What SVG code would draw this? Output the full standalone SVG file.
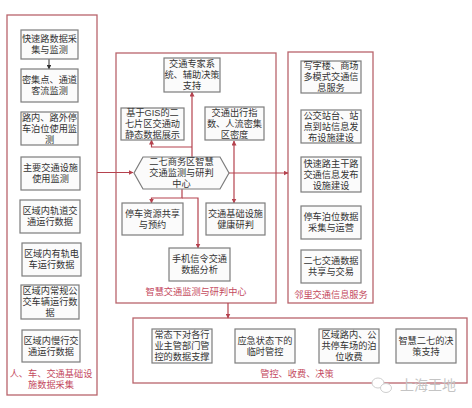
<svg xmlns="http://www.w3.org/2000/svg" width="472" height="408" viewBox="0 0 472 408">
<style>
.bg{fill:#ffffff}
.cont{fill:none;stroke:#b9646c;stroke-width:1.3}
.box{fill:#fbfbfb;stroke:#7c7c7c;stroke-width:1.2}
.t{font-family:"Liberation Sans","Noto Sans CJK SC","Noto Sans CJK JP",sans-serif;font-size:9.2px;fill:#333;text-anchor:middle}
.lbl{font-family:"Liberation Sans","Noto Sans CJK SC","Noto Sans CJK JP",sans-serif;font-size:9.2px;fill:#c44a5e;text-anchor:middle}
.ln{fill:none;stroke:#b5424e;stroke-width:1.2}
.lnk{fill:none;stroke:#333;stroke-width:1}
.wm{font-family:"Liberation Sans","Noto Sans CJK SC","Noto Sans CJK JP",sans-serif;font-size:14px;fill:#c4c4c4;text-anchor:middle}
</style>
<defs>
<marker id="ar" viewBox="0 0 10 10" refX="9" refY="5" markerWidth="5" markerHeight="5" orient="auto-start-reverse" markerUnits="userSpaceOnUse">
<path d="M0,0 L10,5 L0,10 Z" fill="#b5424e"/>
</marker>
<marker id="ak" viewBox="0 0 10 10" refX="9" refY="5" markerWidth="4.5" markerHeight="4.5" orient="auto" markerUnits="userSpaceOnUse">
<path d="M0,0 L10,5 L0,10 Z" fill="#333"/>
</marker>
</defs>
<rect class="bg" width="472" height="408"/>

<g id="containers">
<rect id="left-container" class="cont" x="7" y="15" width="90" height="380"/>
<rect id="center-container" class="cont" x="116" y="53" width="160" height="250"/>
<rect id="right-container" class="cont" x="288" y="52" width="85" height="251"/>
<rect id="bottom-container" class="cont" x="133" y="318" width="334" height="65"/>
</g>

<g id="connectors">
<path class="lnk" d="M49,59 V69" marker-end="url(#ak)"/>
<path class="ln" d="M97,172.5 H133" marker-end="url(#ar)"/>
<path class="ln" d="M192,157 V92" marker-end="url(#ar)"/>
<path class="ln" d="M192,147 H151.5 V140" marker-end="url(#ar)"/>
<path class="ln" d="M234,141 V203" marker-start="url(#ar)" marker-end="url(#ar)"/>
<path class="ln" d="M229,173 H288" marker-end="url(#ar)"/>
<path class="ln" d="M182,189 V198 H151.5 V203" marker-end="url(#ar)"/>
<path class="ln" d="M182,198 H198 V248" marker-end="url(#ar)"/>
<path class="ln" d="M228,303 V318" marker-end="url(#ar)"/>
</g>

<g id="n-l1"><rect class="box" x="21" y="30" width="57" height="29"/><text class="t"><tspan x="49.5" y="42.2">快速路数据采</tspan><tspan x="49.5" y="53.2">集与监测</tspan></text></g>
<g id="n-l2"><rect class="box" x="21" y="69" width="57" height="33"/><text class="t"><tspan x="49.5" y="83">密集点、通道</tspan><tspan x="49.5" y="94">客流监测</tspan></text></g>
<g id="n-l3"><rect class="box" x="21" y="112" width="57" height="33"/><text class="t"><tspan x="49.5" y="120.7">路内、路外停</tspan><tspan x="49.5" y="131.7">车泊位使用监</tspan><tspan x="49.5" y="142.7">测</tspan></text></g>
<g id="n-l4"><rect class="box" x="21" y="157" width="59" height="33"/><text class="t"><tspan x="50.5" y="171">主要交通设施</tspan><tspan x="50.5" y="182">使用监测</tspan></text></g>
<g id="n-l5"><rect class="box" x="20" y="200" width="60" height="33"/><text class="t"><tspan x="50" y="214">区域内轨道交</tspan><tspan x="50" y="225">通运行数据</tspan></text></g>
<g id="n-l6"><rect class="box" x="22" y="243" width="59" height="33"/><text class="t"><tspan x="51.5" y="257">区域内有轨电</tspan><tspan x="51.5" y="268">车运行数据</tspan></text></g>
<g id="n-l7"><rect class="box" x="21" y="285" width="58" height="34"/><text class="t"><tspan x="50" y="294.2">区域内常规公</tspan><tspan x="50" y="305.2">交车辆运行数</tspan><tspan x="50" y="316.2">据</tspan></text></g>
<g id="n-l8"><rect class="box" x="22" y="330" width="58" height="32"/><text class="t"><tspan x="51" y="343.5">区域内慢行交</tspan><tspan x="51" y="354.5">通运行数据</tspan></text></g>
<g id="lbl-left"><text class="lbl"><tspan x="51" y="377.2">人、车、交通基础设</tspan><tspan x="51" y="388.2">施数据采集</tspan></text></g>

<g id="n-expert"><rect class="box" x="164" y="58" width="56" height="34"/><text class="t"><tspan x="192" y="67.2">交通专家系</tspan><tspan x="192" y="78.2">统、辅助决策</tspan><tspan x="192" y="89.2">支持</tspan></text></g>
<g id="n-gis"><rect class="box" x="121" y="108" width="63" height="32"/><text class="t"><tspan x="152.5" y="116.2">基于GIS的二</tspan><tspan x="152.5" y="127.2">七片区交通动</tspan><tspan x="152.5" y="138.2">静态数据展示</tspan></text></g>
<g id="n-index"><rect class="box" x="205" y="107" width="59" height="33"/><text class="t"><tspan x="234.5" y="116">交通出行指</tspan><tspan x="234.5" y="127">数、人流密集</tspan><tspan x="234.5" y="138">区密度</tspan></text></g>
<g id="n-hub"><polygon class="box" points="134,173 143,157 220,157 229,173 220,189 143,189"/><text class="t"><tspan x="181.5" y="165.2">二七商务区智慧</tspan><tspan x="181.5" y="176.2">交通监测与研判</tspan><tspan x="181.5" y="187.2">中心</tspan></text></g>
<g id="n-parking"><rect class="box" x="122" y="203" width="61" height="32"/><text class="t"><tspan x="152.5" y="216.7">停车资源共享</tspan><tspan x="152.5" y="227.7">与预约</tspan></text></g>
<g id="n-infra"><rect class="box" x="206" y="203" width="59" height="32"/><text class="t"><tspan x="235.5" y="216.7">交通基础设施</tspan><tspan x="235.5" y="227.7">健康研判</tspan></text></g>
<g id="n-mobile"><rect class="box" x="169" y="248" width="61" height="33"/><text class="t"><tspan x="199.5" y="262.2">手机信令交通</tspan><tspan x="199.5" y="273.2">数据分析</tspan></text></g>
<g id="lbl-center"><text class="lbl" x="196" y="295.2">智慧交通监测与研判中心</text></g>

<g id="n-r1"><rect class="box" x="301" y="61" width="60" height="32"/><text class="t"><tspan x="331" y="69.2">写字楼、商场</tspan><tspan x="331" y="80.2">多模式交通信</tspan><tspan x="331" y="91.2">息服务</tspan></text></g>
<g id="n-r2"><rect class="box" x="301" y="110" width="60" height="33"/><text class="t"><tspan x="331" y="118.7">公交站台、站</tspan><tspan x="331" y="129.7">点到站信息发</tspan><tspan x="331" y="140.7">布设施建设</tspan></text></g>
<g id="n-r3"><rect class="box" x="301" y="157" width="60" height="35"/><text class="t"><tspan x="331" y="166.7">快速路主干路</tspan><tspan x="331" y="177.7">交通信息发布</tspan><tspan x="331" y="188.7">设施建设</tspan></text></g>
<g id="n-r4"><rect class="box" x="301" y="206" width="60" height="33"/><text class="t"><tspan x="331" y="220.2">停车泊位数据</tspan><tspan x="331" y="231.2">采集与运营</tspan></text></g>
<g id="n-r5"><rect class="box" x="301" y="250" width="60" height="33"/><text class="t"><tspan x="331" y="264.2">二七交通数据</tspan><tspan x="331" y="275.2">共享与交易</tspan></text></g>
<g id="lbl-right"><text class="lbl" x="331" y="298.2">邻里交通信息服务</text></g>

<g id="n-b1"><rect class="box" x="152" y="329" width="60" height="34"/><text class="t"><tspan x="182" y="338.2">常态下对各行</tspan><tspan x="182" y="349.2">业主管部门管</tspan><tspan x="182" y="360.2">控的数据支撑</tspan></text></g>
<g id="n-b2"><rect class="box" x="235" y="329" width="60" height="34"/><text class="t"><tspan x="265" y="343.7">应急状态下的</tspan><tspan x="265" y="354.7">临时管控</tspan></text></g>
<g id="n-b3"><rect class="box" x="319" y="329" width="60" height="34"/><text class="t"><tspan x="349" y="338.2">区域路内、公</tspan><tspan x="349" y="349.2">共停车场的泊</tspan><tspan x="349" y="360.2">位收费</tspan></text></g>
<g id="n-b4"><rect class="box" x="396" y="329" width="60" height="34"/><text class="t"><tspan x="426" y="343.7">智慧二七的决</tspan><tspan x="426" y="354.7">策支持</tspan></text></g>
<g id="lbl-bottom"><text class="lbl" x="297" y="377.2">管控、收费、决策</text></g>

<g id="watermark">
<ellipse cx="378" cy="383" rx="6" ry="5" fill="#fff" stroke="#cfcfcf" stroke-width="1"/>
<ellipse cx="386" cy="388" rx="5.5" ry="4.5" fill="#fff" stroke="#cfcfcf" stroke-width="1"/>
<text class="wm" x="428" y="390">上海王地</text>
</g>
</svg>
